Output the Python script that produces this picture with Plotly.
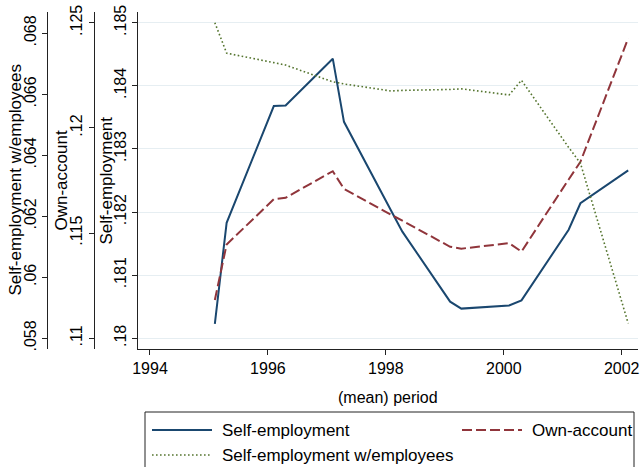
import plotly.graph_objects as go

# (mean) period and the three series
period = [1995.10, 1995.30, 1996.10, 1996.30, 1997.10, 1997.29, 1998.09, 1998.28,
          1999.09, 1999.28, 2000.09, 2000.30, 2001.10, 2001.30, 2002.11]
self_employment = [.18023, .18183, .18368, .18369, .18443, .18343, .18202, .18169,
                   .18058, .18047, .18052, .18060, .18172, .18214, .18266]
own_account = [.11182, .11446, .11661, .11668, .11794, .11710, .11587, .11559,
               .11435, .11426, .11452, .11412, .11755, .11839, .12426]
self_emp_w_employees = [.06835, .06735, .06704, .06696, .06641, .06634, .06611, .06613,
                        .06616, .06618, .06598, .06646, .06426, .06374, .05849]

x_ticks = [1994, 1996, 1998, 2000, 2002]
se_ticks = [.18, .181, .182, .183, .184, .185]
se_labels = [".18", ".181", ".182", ".183", ".184", ".185"]
oa_ticks = [.11, .115, .12, .125]
oa_labels = [".11", ".115", ".12", ".125"]
we_ticks = [.058, .06, .062, .064, .066, .068]
we_labels = [".058", ".06", ".062", ".064", ".066", ".068"]

NAVY = "#1a476f"
MAROON = "#90353b"
GREEN = "#55752f"
FONT = "Liberation Sans, Arial, sans-serif"
FS_TICK = 16
FS_TEXT = 17

W, H = 640, 467
M_L, M_R, M_T, M_B = 0, 2, 12, 118
PW = W - M_L - M_R
PH = H - M_T - M_B


def px_x(px):
    return (px - M_L) / PW


def px_y(py):
    return (H - M_B - py) / PH


fig = go.Figure()
fig.add_trace(go.Scatter(x=period, y=self_employment, mode="lines", name="Self-employment",
                         line=dict(color=NAVY, width=2), yaxis="y"))
fig.add_trace(go.Scatter(x=period, y=own_account, mode="lines", name="Own-account",
                         line=dict(color=MAROON, width=2, dash="10px,4px"), yaxis="y2"))
fig.add_trace(go.Scatter(x=period, y=self_emp_w_employees, mode="lines",
                         name="Self-employment w/employees",
                         line=dict(color=GREEN, width=1.6, dash="1.6px,2.4px"), yaxis="y3"))

axis_common = dict(showline=True, linecolor="#222", linewidth=1, ticks="outside", ticklen=5,
                   tickcolor="#222", tickangle=-90, zeroline=False,
                   tickfont=dict(family=FONT, size=FS_TICK, color="#000"), fixedrange=True)

fig.update_layout(
    width=W, height=H, margin=dict(l=M_L, r=M_R, t=M_T, b=M_B, autoexpand=False),
    paper_bgcolor="white", plot_bgcolor="white", showlegend=False,
    font=dict(family=FONT, size=FS_TEXT, color="#000"),
    xaxis=dict(domain=[px_x(138.3), 1], range=[1993.802, 2002.276], tickvals=x_ticks,
               showline=True, linecolor="#222", linewidth=1, ticks="outside", ticklen=5,
               tickcolor="#222", showgrid=False, zeroline=False,
               tickfont=dict(family=FONT, size=FS_TICK, color="#000")),
    yaxis=dict(range=[.17983, .18517], tickvals=se_ticks, ticktext=se_labels,
               showgrid=True, gridcolor="#e6eef2", gridwidth=1.2, **axis_common),
    yaxis2=dict(range=[.10949, .12551], tickvals=oa_ticks, ticktext=oa_labels,
                overlaying="y", anchor="free", side="left", position=px_x(93.8),
                showgrid=False, **axis_common),
    yaxis3=dict(range=[.05765, .0687], tickvals=we_ticks, ticktext=we_labels,
                overlaying="y", anchor="free", side="left", position=px_x(47.3),
                showgrid=False, **axis_common),
)

# axis titles
annotations = [
    dict(text="(mean) period", x=px_x(388), y=px_y(397), xanchor="center", yanchor="middle",
         font_size=16),
    dict(text="Self-employment", x=px_x(106), y=0.5, textangle=-90, xanchor="center", yanchor="middle"),
    dict(text="Own-account", x=px_x(61), y=0.5, textangle=-90, xanchor="center", yanchor="middle"),
    dict(text="Self-employment w/employees", x=px_x(15), y=0.5, textangle=-90,
         xanchor="center", yanchor="middle"),
]

# legend box, keys and labels
shapes = [dict(type="rect", xref="paper", yref="paper", x0=px_x(145), x1=px_x(634),
               y0=px_y(472), y1=px_y(412), line=dict(color="#222", width=1), fillcolor="white",
               layer="above")]
legend_rows = [
    ("Self-employment", NAVY, "solid", 2, 152, 430),
    ("Own-account", MAROON, "10px,4px", 2, 462, 430),
    ("Self-employment w/employees", GREEN, "1.6px,2.4px", 1.6, 152, 455),
]
for label, color, dash, width, x0, yy in legend_rows:
    shapes.append(dict(type="line", xref="paper", yref="paper", x0=px_x(x0), x1=px_x(x0 + 60),
                       y0=px_y(yy), y1=px_y(yy), line=dict(color=color, width=width, dash=dash),
                       layer="above"))
    annotations.append(dict(text=label, x=px_x(x0 + 68), y=px_y(yy), xanchor="left",
                            yanchor="middle"))

for a in annotations:
    size = a.pop("font_size", FS_TEXT)
    a.update(xref="paper", yref="paper", showarrow=False,
             font=dict(family=FONT, size=size, color="#000"))

fig.update_layout(annotations=annotations, shapes=shapes)
fig.write_html("out.html")
